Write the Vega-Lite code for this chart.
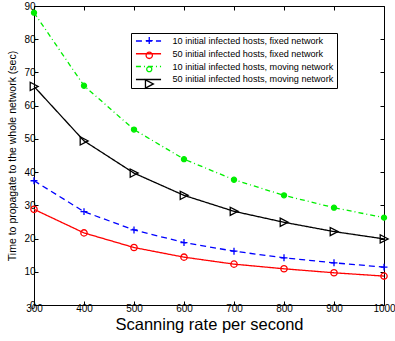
{
  "$schema": "https://vega.github.io/schema/vega-lite/v6.json",
  "width": 350,
  "height": 299,
  "autosize": "none",
  "padding": {"left": 34, "top": 6, "right": 11, "bottom": 36},
  "background": "white",
  "config": {
    "view": {"stroke": "black", "strokeWidth": 1},
    "font": "Liberation Sans",
    "axis": {
      "grid": false,
      "domain": false,
      "tickColor": "black",
      "tickSize": -4,
      "labelColor": "black",
      "labelFontSize": 10,
      "labelFont": "Liberation Sans",
      "labelFlush": false,
      "labelOverlap": false,
      "format": "d",
      "titleColor": "black",
      "titleFont": "Liberation Sans",
      "titleFontWeight": "normal"
    }
  },
  "data": {
    "values": [
      {"rate": 300, "time": 37.4, "series": "10 initial infected hosts, fixed network"},
      {"rate": 400, "time": 28.1, "series": "10 initial infected hosts, fixed network"},
      {"rate": 500, "time": 22.6, "series": "10 initial infected hosts, fixed network"},
      {"rate": 600, "time": 18.8, "series": "10 initial infected hosts, fixed network"},
      {"rate": 700, "time": 16.2, "series": "10 initial infected hosts, fixed network"},
      {"rate": 800, "time": 14.2, "series": "10 initial infected hosts, fixed network"},
      {"rate": 900, "time": 12.7, "series": "10 initial infected hosts, fixed network"},
      {"rate": 1000, "time": 11.4, "series": "10 initial infected hosts, fixed network"},
      {"rate": 300, "time": 28.8, "series": "50 initial infected hosts, fixed network"},
      {"rate": 400, "time": 21.7, "series": "50 initial infected hosts, fixed network"},
      {"rate": 500, "time": 17.3, "series": "50 initial infected hosts, fixed network"},
      {"rate": 600, "time": 14.4, "series": "50 initial infected hosts, fixed network"},
      {"rate": 700, "time": 12.3, "series": "50 initial infected hosts, fixed network"},
      {"rate": 800, "time": 10.9, "series": "50 initial infected hosts, fixed network"},
      {"rate": 900, "time": 9.7, "series": "50 initial infected hosts, fixed network"},
      {"rate": 1000, "time": 8.7, "series": "50 initial infected hosts, fixed network"},
      {"rate": 300, "time": 88.0, "series": "10 initial infected hosts, moving network"},
      {"rate": 400, "time": 66.0, "series": "10 initial infected hosts, moving network"},
      {"rate": 500, "time": 52.8, "series": "10 initial infected hosts, moving network"},
      {"rate": 600, "time": 43.9, "series": "10 initial infected hosts, moving network"},
      {"rate": 700, "time": 37.7, "series": "10 initial infected hosts, moving network"},
      {"rate": 800, "time": 33.0, "series": "10 initial infected hosts, moving network"},
      {"rate": 900, "time": 29.3, "series": "10 initial infected hosts, moving network"},
      {"rate": 1000, "time": 26.3, "series": "10 initial infected hosts, moving network"},
      {"rate": 300, "time": 65.8, "series": "50 initial infected hosts, moving network"},
      {"rate": 400, "time": 49.4, "series": "50 initial infected hosts, moving network"},
      {"rate": 500, "time": 39.7, "series": "50 initial infected hosts, moving network"},
      {"rate": 600, "time": 33.0, "series": "50 initial infected hosts, moving network"},
      {"rate": 700, "time": 28.2, "series": "50 initial infected hosts, moving network"},
      {"rate": 800, "time": 24.9, "series": "50 initial infected hosts, moving network"},
      {"rate": 900, "time": 22.1, "series": "50 initial infected hosts, moving network"},
      {"rate": 1000, "time": 19.9, "series": "50 initial infected hosts, moving network"}
    ]
  },
  "resolve": {
    "scale": {"x": "independent", "y": "independent", "color": "independent", "shape": "independent", "fill": "independent", "size": "independent", "strokeDash": "independent"},
    "axis": {"x": "independent", "y": "independent"},
    "legend": {"color": "independent", "shape": "independent", "fill": "independent", "size": "independent", "strokeDash": "independent"}
  },
  "layer": [
    {
      "mark": {"type": "line", "strokeWidth": 1.3},
      "encoding": {
        "x": {
          "field": "rate", "type": "quantitative",
          "scale": {"domain": [300, 1000], "nice": false, "zero": false},
          "axis": {"title": "Scanning rate per second", "titleFontSize": 16.5, "titlePadding": 3, "values": [300, 400, 500, 600, 700, 800, 900, 1000], "labelPadding": 2}
        },
        "y": {
          "field": "time", "type": "quantitative",
          "scale": {"domain": [0, 90], "nice": false},
          "axis": {"title": "Time to propagate to the whole network (sec)", "titleFontSize": 10.5, "titlePadding": 6, "values": [0, 10, 20, 30, 40, 50, 60, 70, 80, 90], "labelPadding": 3}
        },
        "color": {
          "field": "series", "type": "nominal",
          "scale": {
            "domain": ["10 initial infected hosts, fixed network", "50 initial infected hosts, fixed network", "10 initial infected hosts, moving network", "50 initial infected hosts, moving network"],
            "range": ["#0000ff", "#ff0000", "#00ee00", "#000000"]
          },
          "legend": {
            "title": null, "orient": "none", "legendX": 97, "legendY": 27,
            "strokeColor": "black", "fillColor": "white", "padding": 3,
            "symbolType": "M-3,0L3,0", "symbolSize": 70, "symbolStrokeWidth": 1.5, "symbolFillColor": "transparent", "symbolOffset": 9.5,
            "labelFontSize": 9.1, "labelFont": "Liberation Sans", "labelColor": "black", "labelOffset": 19, "labelLimit": 300,
            "rowPadding": 1.8
          }
        },
        "strokeDash": {
          "field": "series", "type": "nominal",
          "scale": {
            "domain": ["10 initial infected hosts, fixed network", "50 initial infected hosts, fixed network", "10 initial infected hosts, moving network", "50 initial infected hosts, moving network"],
            "range": [[6, 4], [1, 0], [5, 3, 1, 3], [1, 0]]
          },
          "legend": {
            "title": null, "orient": "none", "legendX": 97, "legendY": 27,
            "strokeColor": "black", "fillColor": "white", "padding": 3,
            "symbolType": "M-3,0L3,0", "symbolSize": 70, "symbolStrokeWidth": 1.5, "symbolFillColor": "transparent", "symbolOffset": 9.5,
            "labelFontSize": 9.1, "labelFont": "Liberation Sans", "labelColor": "black", "labelOffset": 19, "labelLimit": 300,
            "rowPadding": 1.8
          }
        }
      }
    },
    {
      "mark": {"type": "point", "filled": false, "strokeWidth": 1.3, "opacity": 1, "size": 40},
      "encoding": {
        "x": {
          "field": "rate", "type": "quantitative",
          "scale": {"domain": [300, 1000], "nice": false, "zero": false},
          "axis": {"orient": "top", "title": null, "labels": false, "values": [300, 400, 500, 600, 700, 800, 900, 1000]}
        },
        "y": {
          "field": "time", "type": "quantitative",
          "scale": {"domain": [0, 90], "nice": false},
          "axis": {"orient": "right", "title": null, "labels": false, "values": [0, 10, 20, 30, 40, 50, 60, 70, 80, 90]}
        },
        "color": {
          "field": "series", "type": "nominal",
          "scale": {
            "domain": ["10 initial infected hosts, fixed network", "50 initial infected hosts, fixed network", "10 initial infected hosts, moving network", "50 initial infected hosts, moving network"],
            "range": ["#0000ff", "#ff0000", "#00ee00", "#000000"]
          },
          "legend": {"title": null, "orient": "none", "legendX": 97, "legendY": 27, "padding": 3, "labelFontSize": 9.1, "labelOpacity": 0, "labelOffset": 19, "labelLimit": 300, "rowPadding": 1.8, "symbolStrokeWidth": 1.3, "symbolSize": 40, "symbolOffset": 10.7}
        },
        "shape": {
          "field": "series", "type": "nominal",
          "scale": {
            "domain": ["10 initial infected hosts, fixed network", "50 initial infected hosts, fixed network", "10 initial infected hosts, moving network", "50 initial infected hosts, moving network"],
            "range": ["M-1.1,0L1.1,0M0,-1.1L0,1.1", "circle", "M-0.8,0A0.8,0.8,0,1,0,0.8,0A0.8,0.8,0,1,0,-0.8,0Z", "M-1.2,-1.3L1.3,0L-1.2,1.3Z"]
          },
          "legend": {"title": null, "orient": "none", "legendX": 97, "legendY": 27, "padding": 3, "labelFontSize": 9.1, "labelOpacity": 0, "labelOffset": 19, "labelLimit": 300, "rowPadding": 1.8, "symbolStrokeWidth": 1.3, "symbolSize": 40, "symbolOffset": 10.7}
        }
      }
    },
    {
      "transform": [{"filter": "datum.series === '10 initial infected hosts, moving network'"}],
      "mark": {"type": "point", "filled": true, "color": "#00ee00", "opacity": 1, "size": 40, "shape": "M-0.8,0A0.8,0.8,0,1,0,0.8,0A0.8,0.8,0,1,0,-0.8,0Z"},
      "encoding": {
        "x": {
          "field": "rate", "type": "quantitative",
          "scale": {"domain": [300, 1000], "nice": false, "zero": false},
          "axis": null
        },
        "y": {
          "field": "time", "type": "quantitative",
          "scale": {"domain": [0, 90], "nice": false},
          "axis": null
        }
      }
    }
  ]
}
